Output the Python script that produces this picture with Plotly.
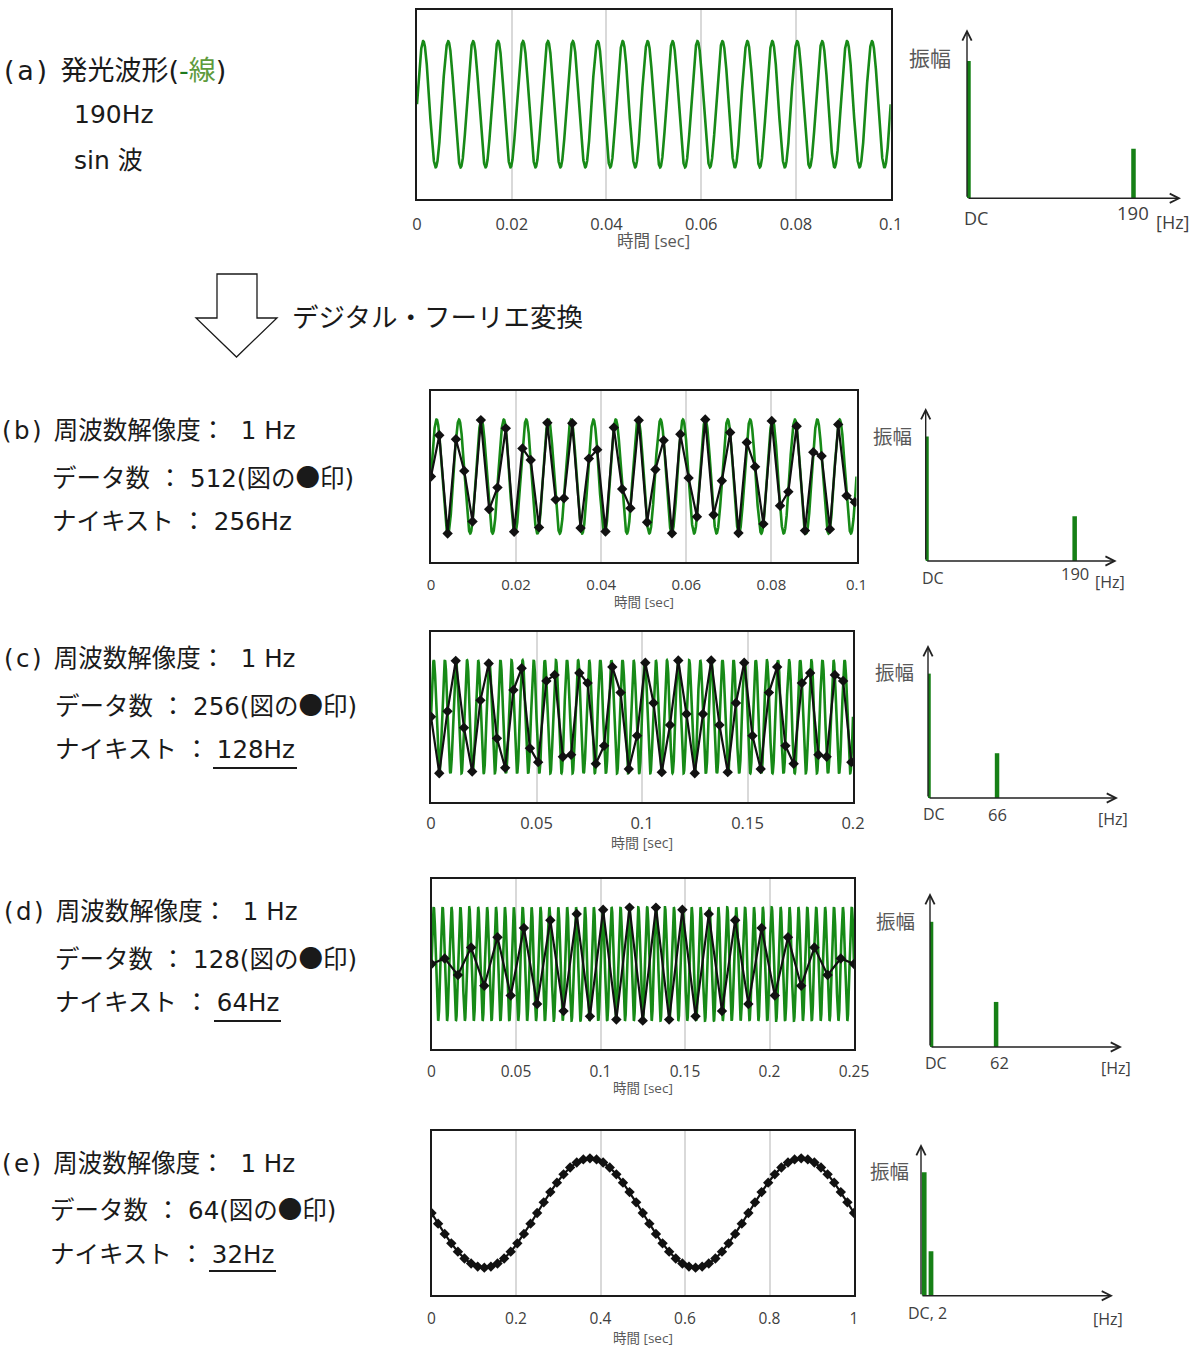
import numpy as np
import plotly.graph_objects as go

W, H = 1193, 1347

# ---- data -------------------------------------------------------------
SIGNAL_HZ = 190                      # emitted sine frequency
SAMPLE_RATES = [None, 512, 256, 128, 64]   # data count per second (● marks)
TIME_SPANS = [0.1, 0.1, 0.2, 0.25, 1.0]    # seconds shown per panel
SHOW_WAVE = [True, True, True, True, False]

TICK_VALUES = [
    [0, 0.02, 0.04, 0.06, 0.08, 0.1],
    [0, 0.02, 0.04, 0.06, 0.08, 0.1],
    [0, 0.05, 0.1, 0.15, 0.2],
    [0, 0.05, 0.1, 0.15, 0.2, 0.25],
    [0, 0.2, 0.4, 0.6, 0.8, 1],
]
TICK_TEXT = [
    ["0", "0.02", "0.04", "0.06", "0.08", "0.1"],
    ["0", "0.02", "0.04", "0.06", "0.08", "0.1"],
    ["0", "0.05", "0.1", "0.15", "0.2"],
    ["0", "0.05", "0.1", "0.15", "0.2", "0.25"],
    ["0", "0.2", "0.4", "0.6", "0.8", "1"],
]

SPEC_DC_AMP = 1.0
SPEC_PEAK_AMP = 0.36
PEAK_FREQS = [190, 190, 66, 62, 2]
PEAK_LABELS = ["190", "190", "66", "62", None]
DC_LABELS = ["DC", "DC", "DC", "DC", "DC, 2"]

HAIR = "\u200a"
EN = "\u2002"
DOT = "<span style='font-family:Noto Sans CJK JP'>●</span>"


def tag(letter):
    return f"({HAIR}{letter}{HAIR}){EN}"


LEFT_TEXT = [
    [tag("a") + "発光波形(<span style='color:#1e7a1e'>-</span>"
     "<span style='color:#5e9b3c'>線</span>)",
     "190Hz", "sin 波"],
    [tag("b") + "周波数解像度：  1 Hz", f"データ数 ： 512(図の{DOT}印)", "ナイキスト ： 256Hz"],
    [tag("c") + "周波数解像度：  1 Hz", f"データ数 ： 256(図の{DOT}印)", "ナイキスト ： 128Hz"],
    [tag("d") + "周波数解像度：  1 Hz", f"データ数 ： 128(図の{DOT}印)", "ナイキスト ： 64Hz"],
    [tag("e") + "周波数解像度：  1 Hz", f"データ数 ： 64(図の{DOT}印)", "ナイキスト ： 32Hz"],
]
TRANSFORM_LABEL = "デジタル・フーリエ変換"

# ---- styling / geometry (pixels) -------------------------------------
FONT = "Open Sans, Noto Sans CJK JP, sans-serif"
TEXT_FONT = "DejaVu Sans, Noto Sans CJK JP, sans-serif"
CJK = "Noto Sans CJK JP, sans-serif"
GREEN = "#178a17"
BAR_GREEN = "#168016"

# time plots: left, right, top, bottom, tick size, tick standoff, title size, title y
TIME_BOX = [
    (417, 890.7, 9.5, 199, 16.5, 9, 16.5, 240.7),
    (431, 856.5, 391, 562, 15, 8, 13.5, 601.7),
    (431, 853, 632, 801.5, 16.5, 6, 14, 842.5),
    (431.5, 854, 879, 1049, 15.5, 8, 13.5, 1088),
    (431.5, 854, 1131, 1295, 15.5, 9, 13.5, 1338),
]
# spectrum sketch: axis x, baseline y, y-arrow tip, x-arrow tip, x range, bar width
SPEC_BOX = [
    (967, 198.3, 29.3, 1181, (-1.7, 244.7), 5.2),
    (925.7, 561, 408, 1116.7, (-1.0, 243.9), 5.8),
    (928, 798, 645, 1118, (-0.5, 182.5), 4.3),
    (930, 1047, 893, 1122, (-1.0, 182.0), 4.3),
    (921, 1295.7, 1144, 1113, (-0.94, 55.5), 1.4),
]
# label centers: 振幅, DC, peak, [Hz]
SPEC_LABEL_POS = [
    ((930, 57), (975.5, 218), (1133, 213), (1172.5, 222), 21, 18),
    ((892.5, 435), (932.5, 578), (1075, 573), (1110, 582), 19.5, 16),
    ((894, 671), (934, 814), (997.5, 814), (1112.5, 819), 19.5, 16),
    ((895.5, 920), (936, 1063), (999.5, 1062), (1115.5, 1068), 19.5, 16),
    ((889, 1170), (927.5, 1313), None, (1108, 1319), 19.5, 16),
]
# left text lines: (x, y, size) per line
LEFT_POS = [
    [(2, 70, 27), (72, 115, 25), (72, 160, 25)],
    [(0, 430, 24.5), (50, 476, 24.5), (50, 521, 24.5)],
    [(2, 658, 24.5), (53, 704, 24.5), (53, 749, 24.5)],
    [(2, 911, 24.5), (53, 957, 24.5), (53, 1002, 24.5)],
    [(0, 1163, 24.5), (48, 1208, 24.5), (48, 1254, 24.5)],
]
UNDERLINES = [None, None, (213, 297, 768), (214, 281, 1021), (209, 276, 1271)]


def fx(px):
    return px / W


def fy(py):
    return 1 - py / H


fig = go.Figure()
layout = dict(
    width=W, height=H, autosize=False,
    margin=dict(l=0, r=0, t=0, b=0, autoexpand=False),
    paper_bgcolor="white", plot_bgcolor="white",
    showlegend=False,
)
annotations = []
shapes = []

for i in range(5):
    xn = "x" if i == 0 else f"x{i + 1}"
    yn = "y" if i == 0 else f"y{i + 1}"
    xl = "xaxis" if i == 0 else f"xaxis{i + 1}"
    yl = "yaxis" if i == 0 else f"yaxis{i + 1}"
    left, right, top, bottom, tsize, tstand, ttsize, title_y = TIME_BOX[i]
    T = TIME_SPANS[i]

    if SHOW_WAVE[i]:
        t = np.linspace(0, T, 8000)
        fig.add_trace(go.Scatter(
            x=t, y=np.sin(2 * np.pi * SIGNAL_HZ * t), mode="lines",
            line=dict(color=GREEN, width=2.6), xaxis=xn, yaxis=yn,
            hoverinfo="skip"))

    fs = SAMPLE_RATES[i]
    if fs:
        n = np.arange(0, int(np.floor(T * fs + 1e-9)) + 1)
        ts = n / fs
        fig.add_trace(go.Scatter(
            x=ts, y=np.sin(2 * np.pi * SIGNAL_HZ * ts), mode="lines+markers",
            line=dict(color="#111111", width=2.2),
            marker=dict(symbol="diamond", size=8, color="#111111"),
            xaxis=xn, yaxis=yn))

    layout[xl] = dict(
        domain=[fx(left), fx(right)], range=[0, T], anchor=yn,
        tickvals=TICK_VALUES[i], ticktext=TICK_TEXT[i],
        showgrid=True, gridcolor="#d9d9d9", gridwidth=1.5,
        zeroline=False, showline=True, mirror=True,
        linecolor="#1a1a1a", linewidth=1.6, ticks="",
        tickfont=dict(family=FONT, size=tsize, color="#404040"),
        ticklabelstandoff=tstand, automargin=False,
    )
    layout[yl] = dict(
        domain=[fy(bottom), fy(top)], range=[-1.5, 1.5], anchor=xn,
        showticklabels=False, showgrid=False, zeroline=False,
        showline=True, mirror=True, linecolor="#1a1a1a", linewidth=1.6,
        automargin=False,
    )
    annotations.append(dict(
        text="時間 [sec]", x=fx((left + right) / 2), y=fy(title_y),
        xref="paper", yref="paper", xanchor="center", yanchor="middle",
        showarrow=False, font=dict(family=FONT, size=ttsize, color="#595959")))

    # spectrum sketch
    sx = f"x{i + 6}"
    sy = f"y{i + 6}"
    ax0, base, ytip, xtip, xr, bw = SPEC_BOX[i]
    fig.add_trace(go.Bar(
        x=[0, PEAK_FREQS[i]], y=[SPEC_DC_AMP, SPEC_PEAK_AMP], width=bw,
        marker=dict(color=BAR_GREEN, line=dict(width=0)),
        xaxis=sx, yaxis=sy))
    layout[f"xaxis{i + 6}"] = dict(
        domain=[fx(ax0), fx(xtip)], range=list(xr), anchor=sy, visible=False)
    layout[f"yaxis{i + 6}"] = dict(
        domain=[fy(base), fy(ytip)], range=[0, 1.23], anchor=sx, visible=False)
    for hx, hy, dx, dy in [(ax0, ytip, 0, base - ytip), (xtip, base, ax0 - xtip, 0)]:
        annotations.append(dict(
            text="", x=fx(hx), y=fy(hy), xref="paper", yref="paper",
            ax=dx, ay=dy, axref="pixel", ayref="pixel", showarrow=True,
            arrowhead=5, arrowsize=1.3, arrowwidth=1.4, arrowcolor="#222222",
            standoff=0, startstandoff=0))

    amp_pos, dc_pos, pk_pos, hz_pos, amp_size, lab_size = SPEC_LABEL_POS[i]
    annotations.append(dict(
        text="振幅", x=fx(amp_pos[0]), y=fy(amp_pos[1]), xref="paper", yref="paper",
        xanchor="center", yanchor="middle", showarrow=False,
        font=dict(family=CJK, size=amp_size, color="#595959")))
    annotations.append(dict(
        text=DC_LABELS[i], x=fx(dc_pos[0]), y=fy(dc_pos[1]), xref="paper", yref="paper",
        xanchor="center", yanchor="middle", showarrow=False,
        font=dict(family=FONT, size=lab_size, color="#404040")))
    if PEAK_LABELS[i]:
        annotations.append(dict(
            text=PEAK_LABELS[i], x=fx(pk_pos[0]), y=fy(pk_pos[1]), xref="paper", yref="paper",
            xanchor="center", yanchor="middle", showarrow=False,
            font=dict(family=FONT, size=lab_size + 0.5, color="#404040")))
    annotations.append(dict(
        text="[Hz]", x=fx(hz_pos[0]), y=fy(hz_pos[1]), xref="paper", yref="paper",
        xanchor="center", yanchor="middle", showarrow=False,
        font=dict(family=FONT, size=lab_size, color="#404040")))

    # left description
    for txt, (lx, ly, ls) in zip(LEFT_TEXT[i], LEFT_POS[i]):
        annotations.append(dict(
            text=txt, x=fx(lx), y=fy(ly), xref="paper", yref="paper",
            xanchor="left", yanchor="middle", showarrow=False,
            font=dict(family=TEXT_FONT, size=ls, color="#1a1a1a")))
    if UNDERLINES[i]:
        ux0, ux1, uy = UNDERLINES[i]
        shapes.append(dict(type="line", xref="paper", yref="paper",
                           x0=fx(ux0), x1=fx(ux1), y0=fy(uy), y1=fy(uy),
                           line=dict(color="#1a1a1a", width=2)))

# hollow down arrow for the transform step
arrow_pts = [(217, 274), (257, 274), (257, 318), (277, 318), (236.5, 357),
             (196, 318), (217, 318)]
path = "M " + " L ".join(f"{fx(px):.5f},{fy(py):.5f}" for px, py in arrow_pts) + " Z"
shapes.append(dict(type="path", xref="paper", yref="paper", path=path,
                   fillcolor="white", line=dict(color="#1a1a1a", width=1.3)))
annotations.append(dict(
    text=TRANSFORM_LABEL, x=fx(290), y=fy(316), xref="paper", yref="paper",
    xanchor="left", yanchor="middle", showarrow=False,
    font=dict(family=CJK, size=26.5, color="#1a1a1a")))

layout["annotations"] = annotations
layout["shapes"] = shapes
fig.update_layout(**layout)
fig.write_html("out.html")
